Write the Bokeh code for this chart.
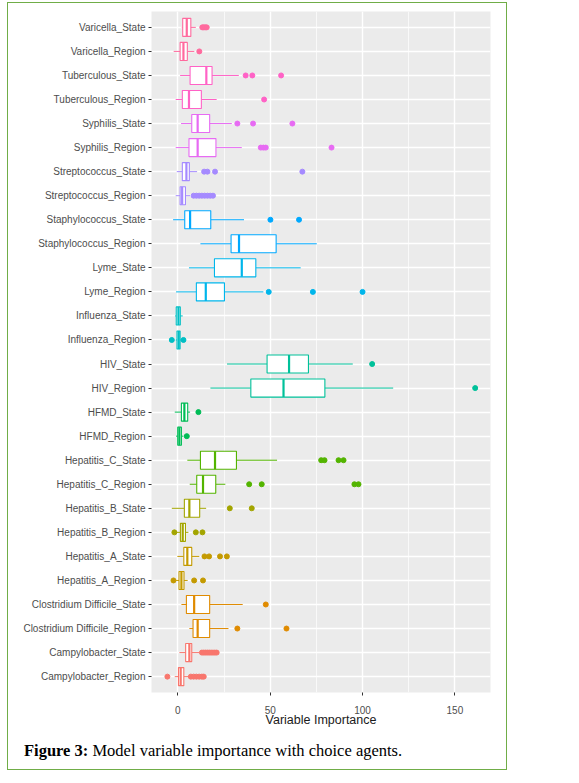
from bokeh.plotting import figure
from bokeh.models import (FactorRange, Range1d, SingleIntervalTicker, ColumnDataSource, Div)
from bokeh.layouts import column
from bokeh.transform import dodge
from bokeh.embed import file_html
from bokeh.resources import INLINE

# ---- data (top to bottom as shown) ----
names = ["Varicella_State", "Varicella_Region", "Tuberculous_State", "Tuberculous_Region",
         "Syphilis_State", "Syphilis_Region", "Streptococcus_State", "Streptococcus_Region",
         "Staphylococcus_State", "Staphylococcus_Region", "Lyme_State", "Lyme_Region",
         "Influenza_State", "Influenza_Region", "HIV_State", "HIV_Region",
         "HFMD_State", "HFMD_Region", "Hepatitis_C_State", "Hepatitis_C_Region",
         "Hepatitis_B_State", "Hepatitis_B_Region", "Hepatitis_A_State", "Hepatitis_A_Region",
         "Clostridium Difficile_State", "Clostridium Difficile_Region",
         "Campylobacter_State", "Campylobacter_Region"]

whisker_lo = [2.1, -2.3, 1.2, -1.2, 1.7, -1.2, -0.6, -1.2, -2.6, 12.2, 6.0, -1.0,
              -1.5, -1.2, 26.6, 17.6, -1.7, -1.0, 5.1, 6.4, -3.3, -0.5, -0.3, -1.0,
              1.9, 6.2, 0.8, -1.7]
q1 = [2.6, 1.2, 6.6, 2.4, 7.5, 6.0, 2.4, 1.2, 3.7, 28.8, 19.8, 10.0,
      -0.9, -0.5, 48.3, 39.5, 1.9, -0.1, 12.2, 10.2, 3.5, 1.35, 3.2, 0.6,
      4.6, 8.2, 4.2, 0.3]
median = [4.8, 3.0, 15.4, 6.0, 10.7, 10.7, 4.6, 2.3, 6.6, 33.1, 34.6, 15.1,
          0.3, 0.45, 60.2, 57.2, 3.5, 0.8, 20.1, 13.6, 6.2, 2.6, 5.1, 1.9,
          8.8, 10.7, 6.2, 1.5]
q3 = [7.0, 5.1, 18.5, 12.7, 17.2, 20.6, 6.2, 4.1, 17.8, 53.2, 42.2, 25.2,
      1.3, 1.2, 70.7, 79.6, 5.3, 1.9, 31.7, 20.5, 11.8, 4.1, 7.5, 3.3,
      17.2, 17.2, 7.5, 3.2]
whisker_hi = [9.7, 8.9, 33.0, 21.0, 29.2, 34.6, 10.4, 6.6, 35.8, 75.2, 66.5, 46.3,
              2.6, 2.0, 94.7, 116.6, 6.6, 3.0, 53.7, 25.7, 15.3, 5.7, 11.6, 5.3,
              35.1, 27.4, 11.6, 6.2]
outliers = [
    [13.2, 14.0, 14.8, 15.6],
    [11.6],
    [36.7, 40.3, 55.9],
    [46.7],
    [32.2, 40.7, 62.0],
    [44.9, 46.3, 47.6, 83.2],
    [14.2, 16.0, 20.1, 67.4],
    [8.5, 10.0, 11.5, 13.0, 14.5, 16.0, 17.5, 19.0],
    [50.1, 65.6],
    [],
    [],
    [49.2, 73.1, 100.0],
    [],
    [-3.3, 3.0],
    [105.2],
    [161.0],
    [11.1],
    [4.8],
    [77.6, 79.4, 87.0, 89.7],
    [38.6, 45.4, 95.6, 97.8],
    [28.1, 40.0],
    [-1.9, 9.7, 13.3],
    [14.4, 16.9, 22.8, 26.5],
    [-2.4, 8.8, 13.6],
    [47.6],
    [32.2, 58.8],
    [13.0, 14.0, 15.0, 16.0, 17.0, 18.0, 19.0, 20.0, 21.0],
    [-5.7, 7.0, 8.5, 10.0, 11.5, 13.0, 14.0],
]
disease_colors = {
    "Varicella": "#FF6A9E", "Tuberculous": "#FF62C6", "Syphilis": "#E76BF3",
    "Streptococcus": "#A58AFF", "Staphylococcus": "#00A9FF", "Lyme": "#00B6EB",
    "Influenza": "#00BFC4", "HIV": "#00C19A", "HFMD": "#00BC56",
    "Hepatitis_C": "#53B400", "Hepatitis_B": "#A3A500", "Hepatitis_A": "#C49A00",
    "Clostridium Difficile": "#E08B00", "Campylobacter": "#F8766D",
}
x_title = "Variable Importance"
caption_bold = "Figure 3:"
caption_rest = "Model variable importance with choice agents."

colors = [disease_colors[n.rsplit("_", 1)[0]] for n in names]

src = ColumnDataSource(dict(cat=names, lo=whisker_lo, q1=q1, med=median, q3=q3,
                            hi=whisker_hi, color=colors))
ox, oy, oc = [], [], []
for n, c, outs in zip(names, colors, outliers):
    for v in outs:
        ox.append(v); oy.append(n); oc.append(c)
osrc = ColumnDataSource(dict(x=ox, y=oy, color=oc))

factors = list(reversed(names))
p = figure(frame_width=339, frame_height=681, output_backend="svg", toolbar_location=None,
           y_range=FactorRange(factors=factors, range_padding=0.16,
                               range_padding_units="absolute"),
           x_range=Range1d(-14.3, 169.3),
           min_border_left=143, min_border_right=16, min_border_top=8,
           min_border_bottom=41)
p.background_fill_color = "#EBEBEB"
p.border_fill_color = "white"
p.outline_line_color = None

# grids
p.xaxis.ticker = SingleIntervalTicker(interval=50, num_minor_ticks=2)
p.xgrid.grid_line_color = "white"
p.xgrid.grid_line_width = 1.4
p.xgrid.minor_grid_line_color = "white"
p.xgrid.minor_grid_line_width = 0.7
p.ygrid.grid_line_color = "white"
p.ygrid.grid_line_width = 1.4

# axes
for ax in (p.xaxis[0], p.yaxis[0]):
    ax.axis_line_color = None
    ax.major_tick_line_color = "#333333"
    ax.major_tick_out = 3
    ax.major_tick_in = 0
    ax.minor_tick_line_color = None
    ax.major_label_text_font = "Liberation Sans"
    ax.major_label_text_font_size = "10px"
    ax.major_label_text_color = "#4D4D4D"
p.xaxis.major_label_standoff = 9
p.yaxis.major_label_standoff = 3
p.xaxis.axis_label = x_title
p.xaxis.axis_label_text_font = "Liberation Sans"
p.xaxis.axis_label_text_font_size = "12.5px"
p.xaxis.axis_label_text_font_style = "normal"
p.xaxis.axis_label_text_color = "#1A1A1A"
p.xaxis.axis_label_standoff = -4

# whiskers
p.segment(x0="lo", y0="cat", x1="q1", y1="cat", color="color", line_width=1, source=src)
p.segment(x0="q3", y0="cat", x1="hi", y1="cat", color="color", line_width=1, source=src)
# boxes
p.hbar(y="cat", left="q1", right="q3", height=0.75, fill_color="white",
       line_color="color", line_width=1.1, source=src)
# medians
p.segment(x0="med", x1="med",
          y0=dodge("cat", -0.375, range=p.y_range),
          y1=dodge("cat", 0.375, range=p.y_range),
          color="color", line_width=2.2, source=src)
# outliers
p.scatter(x="x", y="y", color="color", size=5, source=osrc)

# caption
cap = Div(text=('<div style="padding:6px 0 0 16px; font-family:\'Liberation Serif\', serif; '
                'font-size:16.5px; color:black; white-space:nowrap;">'
                f'<b>{caption_bold}</b> {caption_rest}</div>'),
          width=498, height=36, margin=0)

layout = column(p, cap, spacing=0,
                styles={"border": "1.5px solid #70AD47", "margin-left": "7px",
                        "margin-top": "2px", "background-color": "white"})

open("out.html", "w").write(file_html(layout, INLINE))
